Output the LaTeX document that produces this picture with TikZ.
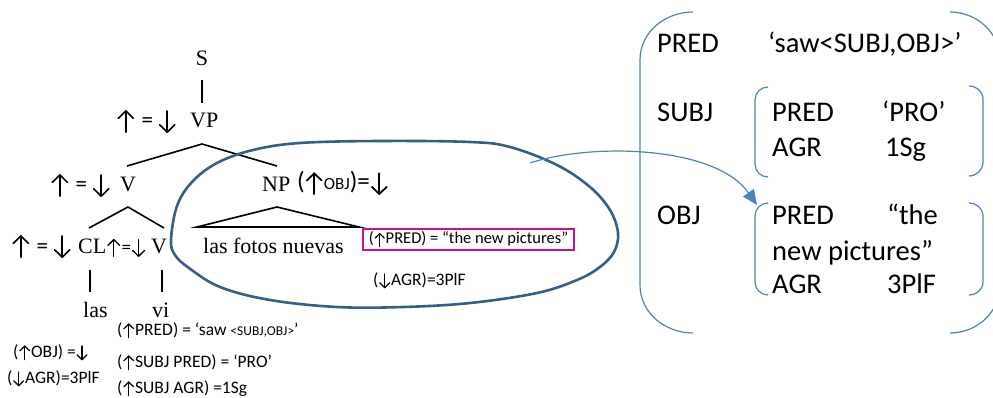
\documentclass[tikz,border=0pt]{standalone}
\usepackage{fontspec}
\setmainfont{Liberation Serif}
\newfontfamily\calfont{Carlito}
\usetikzlibrary{arrows.meta}
\definecolor{blobblue}{HTML}{385D8A}
\definecolor{avmblue}{HTML}{4F81BD}
\definecolor{boxmag}{HTML}{C8108C}
% thin up and down arrows drawn at the size of the current font
\tikzset{arrglyph/.style={x=#1em,y=#1em,baseline=0pt,black,line width=0.07em,
  line cap=round,line join=round}}
\newcommand\UpA[1][0.85]{\tikz[arrglyph=#1]{\path (-0.05,0) (0.8,0);
  \draw (0.37,-0.18) -- (0.37,0.74); \draw (0.04,0.42) -- (0.37,0.74) -- (0.7,0.42);}}
\newcommand\DnA[1][0.85]{\tikz[arrglyph=#1]{\path (-0.05,0) (0.8,0);
  \draw (0.37,0.74) -- (0.37,-0.18); \draw (0.04,0.14) -- (0.37,-0.18) -- (0.7,0.14);}}
\newcommand\TreeEq{\UpA[1]\hspace{0.25em}=\hspace{0.2em}\DnA[1]}
\begin{document}
\begin{tikzpicture}[x=1pt,y=-1pt,
  tree/.style={inner sep=0pt, anchor=base west, font=\fontsize{22}{24}\selectfont},
  eqn/.style={inner sep=0pt, anchor=base west, font=\fontsize{23}{25}\calfont},
  ann/.style={inner sep=0pt, anchor=base west, font=\fontsize{17.5}{19}\calfont},
  avm/.style={inner sep=0pt, anchor=base west, font=\fontsize{28.5}{32}\calfont},
  branch/.style={line width=1.6pt, black},
  brk/.style={line width=1.2pt, avmblue}]
\useasboundingbox (0,0) rectangle (993,398);

% ---- c-structure tree ----
\node[tree, anchor=base] (S) at (202,66) {S};
\node[eqn] (vpeq) at (116,128) {\TreeEq};
\node[tree] (VP) at (190,128) {VP};
\node[eqn] (veq) at (50,192) {\TreeEq};
\node[tree] (V) at (120,192) {V};
\node[tree] (NP) at (262,192) {NP};
\node[eqn, font=\fontsize{25}{27}\calfont] (npeq) at (297,190)
  {(\UpA[0.9]{\fontsize{17}{19}\selectfont OBJ})=\DnA[0.9]};
\node[eqn] (cleq) at (11,253) {\TreeEq};
\node[tree] (CL) at (78,253) {CL};
\node[eqn, font=\fontsize{19}{21}\calfont] (v2eq) at (106,253) {\UpA[0.95]=\DnA[0.95]};
\node[tree] (V2) at (151,253) {V};
\node[tree] (fotos) at (203,253) {las fotos nuevas};
\node[tree] (las) at (83,317) {las};
\node[tree] (vi) at (152,317) {vi};

\coordinate (sLow) at (202,80);   \coordinate (vpHigh) at (202,103);
\coordinate (vpApex) at (202,144); \coordinate (vpL) at (127,166); \coordinate (vpR) at (277,166);
\coordinate (vApex) at (128,207);  \coordinate (vL) at (89,228);   \coordinate (vR) at (164,228);
\coordinate (npApex) at (277,207); \coordinate (npL) at (197,227); \coordinate (npR) at (359,227);
\coordinate (clHigh) at (90,270);  \coordinate (clLow) at (90,292);
\coordinate (viHigh) at (162,270); \coordinate (viLow) at (162,292);

\draw[branch] (sLow) -- (vpHigh);
\draw[branch] (vpL) -- (vpApex) -- (vpR);
\draw[branch] (vL) -- (vApex) -- (vR);
\draw[branch] (npL) -- (npApex) -- (npR) -- cycle;
\draw[branch] (clHigh) -- (clLow);
\draw[branch] (viHigh) -- (viLow);

% ---- lexical annotations ----
\node[ann] (viPred) at (117,335) {(\UpA PRED) = ‘saw {\fontsize{13.5}{15}\selectfont <SUBJ,OBJ>}’};
\node[ann] (viSubjPred) at (117,367) {(\UpA SUBJ PRED) = ‘PRO’};
\node[ann] (viSubjAgr) at (117,393) {(\UpA SUBJ AGR) =1Sg};
\node[ann] (clObj) at (13,357) {(\UpA OBJ) =\DnA};
\node[ann] (clAgr) at (7,383) {(\DnA AGR)=3PlF};
\node[draw=boxmag, line width=2pt, inner sep=0pt, minimum width=211pt, minimum height=21pt,
      font=\fontsize{16.5}{18}\calfont] (npPred) at (468.5,239.5) {(\UpA PRED) = “the new pictures”};
\node[ann] (npAgr) at (373,285) {(\DnA AGR)=3PlF};

% ---- outline round the object NP ----
\draw[blobblue, line width=2.6pt] plot[smooth cycle, tension=0.6] coordinates {
  (171,240) (177,206) (192,182) (217,163) (253,150) (300,143) (380,141) (470,142)
  (510,147) (557,165) (590,187) (610,210) (618,233) (614,252) (600,267) (577,280)
  (537,293) (470,303) (403,307) (337,307) (270,300) (220,287) (189,268) (175,255)};

% ---- f-structure ----
\node[avm] (fPred) at (657,53) {PRED};
\node[avm] (fPredV) at (768,53) {‘saw<SUBJ,OBJ>’};
\node[avm] (fSubj) at (657,122) {SUBJ};
\node[avm] (sPred) at (772,122) {PRED};
\node[avm] (sPredV) at (882,122) {‘PRO’};
\node[avm] (sAgr) at (772,157) {AGR};
\node[avm] (sAgrV) at (885,157) {1Sg};
\node[avm] (fObj) at (657,225) {OBJ};
\node[avm] (oPred) at (772,225) {PRED};
\node[avm] (oPredV) at (887,225) {“the};
\node[avm] (oPredV2) at (772,260) {new pictures”};
\node[avm] (oAgr) at (772,293) {AGR};
\node[avm] (oAgrV) at (887,293) {3PlF};

% outer brackets
\draw[brk] (693,12) to[out=180,in=90] (640,60) -- (640,285) to[out=-90,in=180] (693,333);
\draw[brk] (950,12) to[out=0,in=90] (1000,60) -- (1000,285) to[out=-90,in=0] (950,333);
% SUBJ value brackets
\draw[brk] (768,87) to[out=180,in=90] (755,100) -- (755,164) to[out=-90,in=180] (768,177);
\draw[brk] (969,86) to[out=0,in=90] (983,99) -- (983,162) to[out=-90,in=0] (969,176);
% OBJ value brackets
\draw[brk] (768,203) to[out=180,in=90] (755,216) -- (755,282) to[out=-90,in=180] (768,295);
\draw[brk] (969,203) to[out=0,in=90] (983,216) -- (983,282) to[out=-90,in=0] (969,295);

% link from the NP to its f-structure
\coordinate (linkFrom) at (530,163);
\coordinate (linkTo) at (757,205);
\draw[avmblue, line width=1.2pt, -{Triangle[length=15pt,width=13pt]}]
  (linkFrom) .. controls (590,143) and (715,145) .. (linkTo);
\end{tikzpicture}
\end{document}
